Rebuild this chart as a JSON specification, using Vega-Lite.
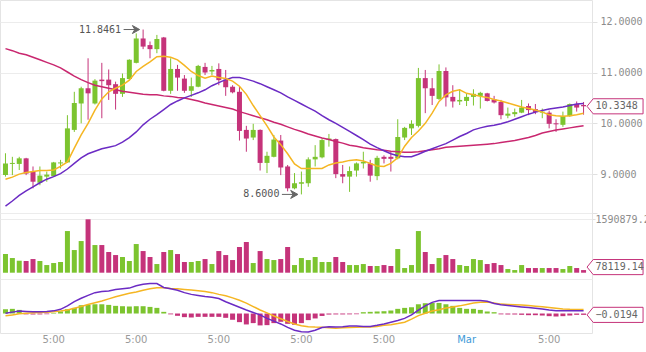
{
  "$schema": "https://vega.github.io/schema/vega-lite/v6.json",
  "width": 592,
  "height": 333,
  "autosize": {"type": "none"},
  "padding": {"left": 0, "top": 0, "right": 54, "bottom": 19},
  "background": "white",
  "config": {"view": {"stroke": "#e4e4e4"}, "font": "DejaVu Sans"},
  "datasets": {
    "c": [
      {"k":0,"o":8.98,"h":9.41,"l":8.95,"c":9.21,"v":556000,"m5":8.90,"m20":8.37,"m60":11.47,"dif":0.005,"dea":-0.033,"hist":0.062},
      {"k":1,"o":9.20,"h":9.34,"l":8.98,"c":9.22,"v":437000,"m5":8.94,"m20":8.47,"m60":11.43,"dif":0.02,"dea":-0.02,"hist":0.067},
      {"k":2,"o":9.20,"h":9.34,"l":9.08,"c":9.31,"v":357000,"m5":9.00,"m20":8.58,"m60":11.38,"dif":0.035,"dea":-0.005,"hist":0.052},
      {"k":3,"o":9.31,"h":9.32,"l":8.98,"c":9.01,"v":348000,"m5":9.03,"m20":8.67,"m60":11.35,"dif":0.03,"dea":0.005,"hist":-0.012},
      {"k":4,"o":9.05,"h":9.15,"l":8.72,"c":8.85,"v":407000,"m5":9.05,"m20":8.75,"m60":11.30,"dif":0.025,"dea":0.01,"hist":-0.014},
      {"k":5,"o":8.83,"h":9.15,"l":8.78,"c":8.97,"v":348000,"m5":9.07,"m20":8.83,"m60":11.25,"dif":0.024,"dea":0.014,"hist":-0.013},
      {"k":6,"o":8.95,"h":9.05,"l":8.85,"c":8.99,"v":228000,"m5":9.07,"m20":8.90,"m60":11.20,"dif":0.028,"dea":0.018,"hist":-0.01},
      {"k":7,"o":8.96,"h":9.24,"l":8.95,"c":9.23,"v":288000,"m5":9.08,"m20":8.95,"m60":11.15,"dif":0.038,"dea":0.024,"hist":0.008},
      {"k":8,"o":9.21,"h":9.28,"l":9.11,"c":9.23,"v":318000,"m5":9.15,"m20":9.01,"m60":11.09,"dif":0.06,"dea":0.035,"hist":0.03},
      {"k":9,"o":9.23,"h":10.16,"l":9.22,"c":9.90,"v":1241000,"m5":9.24,"m20":9.10,"m60":11.01,"dif":0.11,"dea":0.052,"hist":0.062},
      {"k":10,"o":9.87,"h":10.62,"l":9.83,"c":10.40,"v":675000,"m5":9.51,"m20":9.21,"m60":10.93,"dif":0.17,"dea":0.075,"hist":0.081},
      {"k":11,"o":10.39,"h":10.72,"l":10.00,"c":10.69,"v":943000,"m5":9.77,"m20":9.32,"m60":10.86,"dif":0.22,"dea":0.10,"hist":0.119},
      {"k":12,"o":10.69,"h":11.28,"l":10.07,"c":10.59,"v":1590879.2,"m5":10.00,"m20":9.40,"m60":10.80,"dif":0.26,"dea":0.13,"hist":0.124},
      {"k":13,"o":10.39,"h":10.87,"l":10.37,"c":10.84,"v":824000,"m5":10.26,"m20":9.45,"m60":10.75,"dif":0.30,"dea":0.155,"hist":0.133},
      {"k":14,"o":10.86,"h":11.19,"l":10.10,"c":10.83,"v":824000,"m5":10.48,"m20":9.50,"m60":10.72,"dif":0.315,"dea":0.18,"hist":0.133},
      {"k":15,"o":10.86,"h":11.06,"l":10.46,"c":10.75,"v":616000,"m5":10.62,"m20":9.53,"m60":10.69,"dif":0.325,"dea":0.21,"hist":0.124},
      {"k":16,"o":10.77,"h":10.82,"l":10.27,"c":10.58,"v":526000,"m5":10.69,"m20":9.56,"m60":10.66,"dif":0.345,"dea":0.24,"hist":0.11},
      {"k":17,"o":10.58,"h":10.98,"l":10.52,"c":10.89,"v":467000,"m5":10.75,"m20":9.63,"m60":10.63,"dif":0.355,"dea":0.265,"hist":0.105},
      {"k":18,"o":10.87,"h":11.26,"l":10.85,"c":11.25,"v":348000,"m5":10.85,"m20":9.72,"m60":10.61,"dif":0.365,"dea":0.29,"hist":0.10},
      {"k":19,"o":11.19,"h":11.77,"l":11.18,"c":11.67,"v":854000,"m5":11.02,"m20":9.83,"m60":10.59,"dif":0.40,"dea":0.31,"hist":0.105},
      {"k":20,"o":11.67,"h":11.8461,"l":11.46,"c":11.51,"v":645000,"m5":11.12,"m20":9.97,"m60":10.57,"dif":0.42,"dea":0.335,"hist":0.105},
      {"k":21,"o":11.54,"h":11.61,"l":11.28,"c":11.46,"v":467000,"m5":11.21,"m20":10.08,"m60":10.56,"dif":0.43,"dea":0.357,"hist":0.095},
      {"k":22,"o":11.46,"h":11.74,"l":11.38,"c":11.66,"v":258000,"m5":11.31,"m20":10.17,"m60":10.56,"dif":0.43,"dea":0.37,"hist":0.081},
      {"k":23,"o":11.69,"h":11.70,"l":10.63,"c":10.64,"v":616000,"m5":11.32,"m20":10.27,"m60":10.54,"dif":0.375,"dea":0.37,"hist":0.024},
      {"k":24,"o":10.64,"h":11.28,"l":10.58,"c":11.07,"v":675000,"m5":11.30,"m20":10.37,"m60":10.53,"dif":0.355,"dea":0.36,"hist":-0.012},
      {"k":25,"o":11.07,"h":11.15,"l":10.64,"c":10.90,"v":556000,"m5":11.25,"m20":10.44,"m60":10.51,"dif":0.335,"dea":0.355,"hist":-0.033},
      {"k":26,"o":10.88,"h":10.95,"l":10.60,"c":10.64,"v":318000,"m5":11.14,"m20":10.50,"m60":10.50,"dif":0.30,"dea":0.345,"hist":-0.052},
      {"k":27,"o":10.64,"h":10.90,"l":10.52,"c":10.73,"v":318000,"m5":11.02,"m20":10.55,"m60":10.47,"dif":0.275,"dea":0.337,"hist":-0.057},
      {"k":28,"o":10.72,"h":11.15,"l":10.71,"c":11.13,"v":348000,"m5":10.94,"m20":10.60,"m60":10.44,"dif":0.26,"dea":0.328,"hist":-0.048},
      {"k":29,"o":11.11,"h":11.19,"l":10.95,"c":11.00,"v":407000,"m5":10.89,"m20":10.66,"m60":10.40,"dif":0.245,"dea":0.315,"hist":-0.048},
      {"k":30,"o":11.02,"h":11.13,"l":10.95,"c":11.05,"v":258000,"m5":10.93,"m20":10.74,"m60":10.37,"dif":0.233,"dea":0.30,"hist":-0.048},
      {"k":31,"o":11.07,"h":11.18,"l":10.75,"c":10.85,"v":645000,"m5":10.90,"m20":10.80,"m60":10.34,"dif":0.215,"dea":0.275,"hist":-0.048},
      {"k":32,"o":10.86,"h":11.05,"l":10.54,"c":10.71,"v":526000,"m5":10.88,"m20":10.86,"m60":10.31,"dif":0.17,"dea":0.255,"hist":-0.062},
      {"k":33,"o":10.72,"h":10.75,"l":10.59,"c":10.61,"v":377000,"m5":10.83,"m20":10.90,"m60":10.28,"dif":0.13,"dea":0.225,"hist":-0.09},
      {"k":34,"o":10.62,"h":10.72,"l":9.66,"c":9.85,"v":765000,"m5":10.73,"m20":10.90,"m60":10.23,"dif":0.09,"dea":0.19,"hist":-0.124},
      {"k":35,"o":9.87,"h":9.95,"l":9.44,"c":9.70,"v":914000,"m5":10.57,"m20":10.87,"m60":10.19,"dif":0.05,"dea":0.15,"hist":-0.157},
      {"k":36,"o":9.72,"h":9.99,"l":9.67,"c":9.87,"v":288000,"m5":10.35,"m20":10.83,"m60":10.15,"dif":0.015,"dea":0.10,"hist":-0.138},
      {"k":37,"o":9.87,"h":9.88,"l":9.07,"c":9.22,"v":645000,"m5":10.15,"m20":10.78,"m60":10.11,"dif":-0.02,"dea":0.05,"hist":-0.171},
      {"k":38,"o":9.22,"h":9.44,"l":9.02,"c":9.36,"v":407000,"m5":9.95,"m20":10.72,"m60":10.07,"dif":-0.07,"dea":0.01,"hist":-0.167},
      {"k":39,"o":9.34,"h":9.77,"l":9.33,"c":9.68,"v":377000,"m5":9.73,"m20":10.66,"m60":10.02,"dif":-0.11,"dea":-0.035,"hist":-0.138},
      {"k":40,"o":9.66,"h":9.77,"l":8.98,"c":9.13,"v":407000,"m5":9.58,"m20":10.60,"m60":9.98,"dif":-0.15,"dea":-0.075,"hist":-0.119},
      {"k":41,"o":9.15,"h":9.18,"l":8.66,"c":8.72,"v":765000,"m5":9.40,"m20":10.52,"m60":9.93,"dif":-0.20,"dea":-0.115,"hist":-0.148},
      {"k":42,"o":8.72,"h":9.02,"l":8.70,"c":8.82,"v":228000,"m5":9.20,"m20":10.45,"m60":9.88,"dif":-0.24,"dea":-0.15,"hist":-0.162},
      {"k":43,"o":8.81,"h":9.05,"l":8.60,"c":8.84,"v":437000,"m5":9.11,"m20":10.38,"m60":9.84,"dif":-0.262,"dea":-0.175,"hist":-0.138},
      {"k":44,"o":8.82,"h":9.33,"l":8.75,"c":9.29,"v":377000,"m5":9.11,"m20":10.31,"m60":9.79,"dif":-0.267,"dea":-0.19,"hist":-0.095},
      {"k":45,"o":9.29,"h":9.57,"l":9.15,"c":9.34,"v":467000,"m5":9.11,"m20":10.24,"m60":9.75,"dif":-0.24,"dea":-0.195,"hist":-0.071},
      {"k":46,"o":9.33,"h":9.70,"l":9.31,"c":9.67,"v":318000,"m5":9.11,"m20":10.15,"m60":9.71,"dif":-0.20,"dea":-0.197,"hist":-0.035},
      {"k":47,"o":9.67,"h":9.79,"l":9.54,"c":9.70,"v":318000,"m5":9.18,"m20":10.07,"m60":9.68,"dif":-0.19,"dea":-0.205,"hist":-0.015},
      {"k":48,"o":9.69,"h":9.70,"l":8.92,"c":9.00,"v":467000,"m5":9.22,"m20":10.00,"m60":9.64,"dif":-0.195,"dea":-0.21,"hist":-0.013},
      {"k":49,"o":9.00,"h":9.18,"l":8.82,"c":8.95,"v":318000,"m5":9.24,"m20":9.92,"m60":9.61,"dif":-0.19,"dea":-0.205,"hist":-0.013},
      {"k":50,"o":8.95,"h":9.15,"l":8.65,"c":9.06,"v":228000,"m5":9.27,"m20":9.84,"m60":9.57,"dif":-0.18,"dea":-0.20,"hist":-0.012},
      {"k":51,"o":9.07,"h":9.23,"l":8.95,"c":9.21,"v":228000,"m5":9.28,"m20":9.76,"m60":9.55,"dif":-0.18,"dea":-0.197,"hist":-0.01},
      {"k":52,"o":9.21,"h":9.44,"l":9.11,"c":9.24,"v":258000,"m5":9.26,"m20":9.68,"m60":9.52,"dif":-0.185,"dea":-0.195,"hist":0.019},
      {"k":53,"o":9.21,"h":9.28,"l":8.85,"c":8.97,"v":199000,"m5":9.21,"m20":9.59,"m60":9.50,"dif":-0.186,"dea":-0.195,"hist":0.024},
      {"k":54,"o":8.96,"h":9.36,"l":8.88,"c":9.32,"v":199000,"m5":9.16,"m20":9.52,"m60":9.48,"dif":-0.17,"dea":-0.185,"hist":0.029},
      {"k":55,"o":9.34,"h":9.37,"l":9.21,"c":9.30,"v":228000,"m5":9.15,"m20":9.46,"m60":9.47,"dif":-0.15,"dea":-0.17,"hist":0.033},
      {"k":56,"o":9.34,"h":9.44,"l":9.05,"c":9.30,"v":199000,"m5":9.21,"m20":9.40,"m60":9.45,"dif":-0.125,"dea":-0.16,"hist":0.043},
      {"k":57,"o":9.31,"h":10.08,"l":9.29,"c":9.73,"v":705000,"m5":9.32,"m20":9.36,"m60":9.44,"dif":-0.10,"dea":-0.145,"hist":0.067},
      {"k":58,"o":9.72,"h":9.93,"l":9.67,"c":9.91,"v":139000,"m5":9.55,"m20":9.34,"m60":9.43,"dif":-0.07,"dea":-0.125,"hist":0.081},
      {"k":59,"o":9.90,"h":10.06,"l":9.77,"c":9.99,"v":228000,"m5":9.72,"m20":9.34,"m60":9.43,"dif":-0.02,"dea":-0.08,"hist":0.09},
      {"k":60,"o":9.95,"h":11.09,"l":9.92,"c":10.89,"v":1241000,"m5":9.85,"m20":9.39,"m60":9.44,"dif":0.05,"dea":-0.03,"hist":0.133},
      {"k":61,"o":10.89,"h":11.05,"l":10.20,"c":10.69,"v":616000,"m5":10.00,"m20":9.45,"m60":9.46,"dif":0.11,"dea":0.005,"hist":0.148},
      {"k":62,"o":10.69,"h":10.89,"l":10.36,"c":10.54,"v":258000,"m5":10.20,"m20":9.50,"m60":9.48,"dif":0.16,"dea":0.035,"hist":0.152},
      {"k":63,"o":10.48,"h":11.16,"l":10.46,"c":11.03,"v":437000,"m5":10.43,"m20":9.55,"m60":9.50,"dif":0.186,"dea":0.055,"hist":0.152},
      {"k":64,"o":11.03,"h":11.10,"l":10.33,"c":10.51,"v":526000,"m5":10.56,"m20":9.60,"m60":9.53,"dif":0.186,"dea":0.08,"hist":0.133},
      {"k":65,"o":10.52,"h":10.75,"l":10.31,"c":10.43,"v":407000,"m5":10.63,"m20":9.67,"m60":9.54,"dif":0.186,"dea":0.095,"hist":0.11},
      {"k":66,"o":10.43,"h":10.67,"l":10.36,"c":10.46,"v":228000,"m5":10.66,"m20":9.74,"m60":9.55,"dif":0.186,"dea":0.11,"hist":0.081},
      {"k":67,"o":10.44,"h":10.59,"l":10.34,"c":10.52,"v":199000,"m5":10.59,"m20":9.80,"m60":9.56,"dif":0.186,"dea":0.13,"hist":0.067},
      {"k":68,"o":10.52,"h":10.67,"l":10.35,"c":10.58,"v":407000,"m5":10.56,"m20":9.87,"m60":9.57,"dif":0.186,"dea":0.15,"hist":0.067},
      {"k":69,"o":10.54,"h":10.62,"l":10.29,"c":10.60,"v":377000,"m5":10.53,"m20":9.91,"m60":9.58,"dif":0.186,"dea":0.163,"hist":0.052},
      {"k":70,"o":10.59,"h":10.60,"l":10.43,"c":10.44,"v":258000,"m5":10.51,"m20":9.94,"m60":9.59,"dif":0.175,"dea":0.165,"hist":0.029},
      {"k":71,"o":10.47,"h":10.54,"l":10.39,"c":10.41,"v":288000,"m5":10.47,"m20":9.96,"m60":9.60,"dif":0.145,"dea":0.15,"hist":0.019},
      {"k":72,"o":10.42,"h":10.46,"l":10.08,"c":10.16,"v":228000,"m5":10.44,"m20":9.99,"m60":9.62,"dif":0.125,"dea":0.135,"hist":-0.012},
      {"k":73,"o":10.15,"h":10.31,"l":10.10,"c":10.19,"v":109000,"m5":10.40,"m20":10.03,"m60":9.64,"dif":0.115,"dea":0.13,"hist":-0.014},
      {"k":74,"o":10.18,"h":10.29,"l":10.13,"c":10.22,"v":79000,"m5":10.36,"m20":10.08,"m60":9.66,"dif":0.105,"dea":0.126,"hist":-0.014},
      {"k":75,"o":10.21,"h":10.46,"l":10.20,"c":10.31,"v":228000,"m5":10.32,"m20":10.13,"m60":9.69,"dif":0.095,"dea":0.122,"hist":-0.019},
      {"k":76,"o":10.34,"h":10.39,"l":10.16,"c":10.26,"v":139000,"m5":10.29,"m20":10.18,"m60":9.72,"dif":0.085,"dea":0.115,"hist":-0.024},
      {"k":77,"o":10.28,"h":10.38,"l":10.18,"c":10.22,"v":139000,"m5":10.26,"m20":10.22,"m60":9.76,"dif":0.075,"dea":0.105,"hist":-0.024},
      {"k":78,"o":10.21,"h":10.29,"l":10.10,"c":10.23,"v":139000,"m5":10.22,"m20":10.25,"m60":9.81,"dif":0.065,"dea":0.097,"hist":-0.029},
      {"k":79,"o":10.21,"h":10.25,"l":9.90,"c":9.99,"v":139000,"m5":10.17,"m20":10.28,"m60":9.84,"dif":0.05,"dea":0.085,"hist":-0.038},
      {"k":80,"o":10.00,"h":10.08,"l":9.83,"c":9.98,"v":139000,"m5":10.15,"m20":10.30,"m60":9.87,"dif":0.04,"dea":0.075,"hist":-0.043},
      {"k":81,"o":9.97,"h":10.23,"l":9.93,"c":10.14,"v":109000,"m5":10.14,"m20":10.32,"m60":9.89,"dif":0.038,"dea":0.065,"hist":-0.038},
      {"k":82,"o":10.14,"h":10.39,"l":10.13,"c":10.38,"v":199000,"m5":10.15,"m20":10.35,"m60":9.91,"dif":0.038,"dea":0.06,"hist":-0.029},
      {"k":83,"o":10.38,"h":10.43,"l":10.23,"c":10.31,"v":139000,"m5":10.17,"m20":10.38,"m60":9.93,"dif":0.038,"dea":0.058,"hist":-0.019},
      {"k":84,"o":10.36,"h":10.42,"l":10.17,"c":10.3348,"v":78119.14,"m5":10.20,"m20":10.39,"m60":9.95,"dif":0.038,"dea":0.057,"hist":-0.0194}
    ],
    "ann": [
      {"k": 20, "p": 11.8461},
      {"k": 43, "p": 8.6}
    ],
    "ticks": [
      {"k": 7, "t": "5:00"},
      {"k": 19, "t": "5:00"},
      {"k": 31, "t": "5:00"},
      {"k": 43, "t": "5:00"},
      {"k": 55, "t": "5:00"},
      {"k": 67, "t": "Mar"},
      {"k": 79, "t": "5:00"}
    ]
  },
  "resolve": {"scale": {"y": "independent"}, "axis": {"y": "independent"}},
  "layer": [
    {
      "data": {"name": "c"},
      "mark": {"type": "rule", "strokeWidth": 1},
      "encoding": {
        "x": {"field": "k", "type": "quantitative", "scale": {"domain": [-0.07, 84.5], "nice": false, "zero": false}, "axis": null},
        "y": {"field": "l", "type": "quantitative", "scale": {"domain": [8.24, 12.394], "range": [212.7, 1.7], "nice": false, "zero": false},
          "axis": {"orient": "right", "values": [8.24, 9, 10, 11, 12], "labelExpr": "datum.value > 8.5 ? format(datum.value, '.4f') : ''", "grid": true, "gridColor": "#ececec", "domain": false, "tickColor": "#e0e0e0", "tickSize": 5, "labelPadding": 3, "labelFont": "DejaVu Sans Mono", "labelFontSize": 10, "labelColor": "#8c8c8c", "labelFlush": false, "labelOverlap": false, "title": null}},
        "y2": {"field": "h"},
        "color": {"condition": {"test": "datum.c >= datum.o", "value": "#7cc42f"}, "value": "#c5337a"}
      }
    },
    {
      "data": {"name": "c"},
      "mark": {"type": "bar", "width": 5},
      "encoding": {
        "x": {"field": "k", "type": "quantitative", "scale": {"domain": [-0.07, 84.5], "nice": false, "zero": false}, "axis": null},
        "y": {"field": "o", "type": "quantitative", "scale": {"domain": [8.24, 12.394], "range": [212.7, 1.7], "nice": false, "zero": false}, "axis": null},
        "y2": {"field": "c"},
        "color": {"condition": {"test": "datum.c >= datum.o", "value": "#7cc42f"}, "value": "#c5337a"}
      }
    },
    {
      "data": {"name": "c"},
      "mark": {"type": "line", "color": "#c9276f", "strokeWidth": 1.5},
      "encoding": {
        "x": {"field": "k", "type": "quantitative", "scale": {"domain": [-0.07, 84.5], "nice": false, "zero": false}, "axis": null},
        "y": {"field": "m60", "type": "quantitative", "scale": {"domain": [8.24, 12.394], "range": [212.7, 1.7], "nice": false, "zero": false}, "axis": null}
      }
    },
    {
      "data": {"name": "c"},
      "mark": {"type": "line", "color": "#6b2bc4", "strokeWidth": 1.5},
      "encoding": {
        "x": {"field": "k", "type": "quantitative", "scale": {"domain": [-0.07, 84.5], "nice": false, "zero": false}, "axis": null},
        "y": {"field": "m20", "type": "quantitative", "scale": {"domain": [8.24, 12.394], "range": [212.7, 1.7], "nice": false, "zero": false}, "axis": null}
      }
    },
    {
      "data": {"name": "c"},
      "mark": {"type": "line", "color": "#f5b623", "strokeWidth": 1.5},
      "encoding": {
        "x": {"field": "k", "type": "quantitative", "scale": {"domain": [-0.07, 84.5], "nice": false, "zero": false}, "axis": null},
        "y": {"field": "m5", "type": "quantitative", "scale": {"domain": [8.24, 12.394], "range": [212.7, 1.7], "nice": false, "zero": false}, "axis": null}
      }
    },
    {
      "data": {"name": "ann"},
      "mark": {"type": "text", "align": "right", "baseline": "middle", "dx": -22, "font": "DejaVu Sans Mono", "fontSize": 10, "color": "#555555"},
      "encoding": {
        "x": {"field": "k", "type": "quantitative", "scale": {"domain": [-0.07, 84.5], "nice": false, "zero": false}, "axis": null},
        "y": {"field": "p", "type": "quantitative", "scale": {"domain": [8.24, 12.394], "range": [212.7, 1.7], "nice": false, "zero": false}, "axis": null},
        "text": {"field": "p", "type": "quantitative", "format": ".4f"}
      }
    },
    {
      "data": {"name": "ann"},
      "mark": {"type": "point", "shape": "M-1,0L0.5,0M0.1,-0.5L1,0L0.1,0.5L0.4,0Z", "size": 256, "filled": true, "fill": "#666666", "stroke": "#666666", "strokeWidth": 1, "opacity": 1, "xOffset": -11.5},
      "encoding": {
        "x": {"field": "k", "type": "quantitative", "scale": {"domain": [-0.07, 84.5], "nice": false, "zero": false}, "axis": null},
        "y": {"field": "p", "type": "quantitative", "scale": {"domain": [8.24, 12.394], "range": [212.7, 1.7], "nice": false, "zero": false}, "axis": null}
      }
    },
    {
      "data": {"name": "c"},
      "transform": [{"filter": "datum.k == 84"}],
      "mark": {"type": "point", "shape": "M-1,0L-0.78,-0.27L1,-0.27L1,0.27L-0.78,0.27Z", "size": 3136, "filled": true, "fill": "white", "stroke": "#c5337a", "strokeWidth": 1, "opacity": 1, "xOffset": 31.5},
      "encoding": {
        "x": {"field": "k", "type": "quantitative", "scale": {"domain": [-0.07, 84.5], "nice": false, "zero": false}, "axis": null},
        "y": {"field": "c", "type": "quantitative", "scale": {"domain": [8.24, 12.394], "range": [212.7, 1.7], "nice": false, "zero": false}, "axis": null}
      }
    },
    {
      "data": {"name": "c"},
      "transform": [{"filter": "datum.k == 84"}],
      "mark": {"type": "text", "align": "left", "baseline": "middle", "dx": 12, "font": "DejaVu Sans Mono", "fontSize": 10, "color": "#666666"},
      "encoding": {
        "x": {"field": "k", "type": "quantitative", "scale": {"domain": [-0.07, 84.5], "nice": false, "zero": false}, "axis": null},
        "y": {"field": "c", "type": "quantitative", "scale": {"domain": [8.24, 12.394], "range": [212.7, 1.7], "nice": false, "zero": false}, "axis": null},
        "text": {"field": "c", "type": "quantitative", "format": ".4f"}
      }
    },
    {
      "data": {"name": "c"},
      "mark": {"type": "bar", "width": 5},
      "encoding": {
        "x": {"field": "k", "type": "quantitative", "scale": {"domain": [-0.07, 84.5], "nice": false, "zero": false}, "axis": null},
        "y": {"field": "v", "type": "quantitative", "scale": {"domain": [0, 1590879.2], "range": [272.7, 219.3], "nice": false},
          "axis": {"orient": "right", "values": [1590879.2], "labelExpr": "'1590879.2'", "grid": true, "gridColor": "#ececec", "domain": false, "tickColor": "#e0e0e0", "tickSize": 3, "labelPadding": 0, "labelFont": "DejaVu Sans Mono", "labelFontSize": 10, "labelColor": "#8c8c8c", "labelFlush": false, "labelOverlap": false, "title": null}},
        "color": {"condition": {"test": "datum.c >= datum.o", "value": "#7cc42f"}, "value": "#c5337a"}
      }
    },
    {
      "data": {"name": "c"},
      "transform": [{"filter": "datum.k == 84"}],
      "mark": {"type": "point", "shape": "M-1,0L-0.78,-0.27L1,-0.27L1,0.27L-0.78,0.27Z", "size": 3136, "filled": true, "fill": "white", "stroke": "#c5337a", "strokeWidth": 1, "opacity": 1, "xOffset": 31.5, "yOffset": -3},
      "encoding": {
        "x": {"field": "k", "type": "quantitative", "scale": {"domain": [-0.07, 84.5], "nice": false, "zero": false}, "axis": null},
        "y": {"field": "v", "type": "quantitative", "scale": {"domain": [0, 1590879.2], "range": [272.7, 219.3], "nice": false}, "axis": null}
      }
    },
    {
      "data": {"name": "c"},
      "transform": [{"filter": "datum.k == 84"}],
      "mark": {"type": "text", "align": "left", "baseline": "middle", "dx": 12, "dy": -3, "font": "DejaVu Sans Mono", "fontSize": 10, "color": "#666666"},
      "encoding": {
        "x": {"field": "k", "type": "quantitative", "scale": {"domain": [-0.07, 84.5], "nice": false, "zero": false}, "axis": null},
        "y": {"field": "v", "type": "quantitative", "scale": {"domain": [0, 1590879.2], "range": [272.7, 219.3], "nice": false}, "axis": null},
        "text": {"field": "v", "type": "quantitative", "format": ".2f"}
      }
    },
    {
      "data": {"name": "c"},
      "mark": {"type": "bar", "width": 5},
      "encoding": {
        "x": {"field": "k", "type": "quantitative", "scale": {"domain": [-0.07, 84.5], "nice": false, "zero": false}, "axis": null},
        "y": {"field": "hist", "type": "quantitative", "scale": {"domain": [-0.28, 0.496], "range": [333, 279], "nice": false},
          "axis": {"orient": "right", "values": [0.496], "labels": false, "ticks": false, "grid": true, "gridColor": "#ececec", "domain": false, "title": null}},
        "color": {"condition": {"test": "datum.hist >= 0", "value": "#7cc42f"}, "value": "#c5337a"}
      }
    },
    {
      "data": {"name": "c"},
      "mark": {"type": "line", "color": "#f5b623", "strokeWidth": 1.5},
      "encoding": {
        "x": {"field": "k", "type": "quantitative", "scale": {"domain": [-0.07, 84.5], "nice": false, "zero": false}, "axis": null},
        "y": {"field": "dea", "type": "quantitative", "scale": {"domain": [-0.28, 0.496], "range": [333, 279], "nice": false}, "axis": null}
      }
    },
    {
      "data": {"name": "c"},
      "mark": {"type": "line", "color": "#6b2bc4", "strokeWidth": 1.5},
      "encoding": {
        "x": {"field": "k", "type": "quantitative", "scale": {"domain": [-0.07, 84.5], "nice": false, "zero": false}, "axis": null},
        "y": {"field": "dif", "type": "quantitative", "scale": {"domain": [-0.28, 0.496], "range": [333, 279], "nice": false}, "axis": null}
      }
    },
    {
      "data": {"name": "c"},
      "transform": [{"filter": "datum.k == 84"}],
      "mark": {"type": "point", "shape": "M-1,0L-0.78,-0.27L1,-0.27L1,0.27L-0.78,0.27Z", "size": 3136, "filled": true, "fill": "white", "stroke": "#c5337a", "strokeWidth": 1, "opacity": 1, "xOffset": 31.5},
      "encoding": {
        "x": {"field": "k", "type": "quantitative", "scale": {"domain": [-0.07, 84.5], "nice": false, "zero": false}, "axis": null},
        "y": {"field": "hist", "type": "quantitative", "scale": {"domain": [-0.28, 0.496], "range": [333, 279], "nice": false}, "axis": null}
      }
    },
    {
      "data": {"name": "c"},
      "transform": [{"filter": "datum.k == 84"}],
      "mark": {"type": "text", "align": "left", "baseline": "middle", "dx": 12, "font": "DejaVu Sans Mono", "fontSize": 10, "color": "#666666"},
      "encoding": {
        "x": {"field": "k", "type": "quantitative", "scale": {"domain": [-0.07, 84.5], "nice": false, "zero": false}, "axis": null},
        "y": {"field": "hist", "type": "quantitative", "scale": {"domain": [-0.28, 0.496], "range": [333, 279], "nice": false}, "axis": null},
        "text": {"field": "hist", "type": "quantitative", "format": ".4f"}
      }
    },
    {
      "data": {"name": "ticks"},
      "mark": {"type": "text", "align": "center", "baseline": "middle", "dy": 7, "font": "DejaVu Sans", "fontSize": 10},
      "encoding": {
        "x": {"field": "k", "type": "quantitative", "scale": {"domain": [-0.07, 84.5], "nice": false, "zero": false}, "axis": null},
        "y": {"datum": -0.28, "type": "quantitative", "scale": {"domain": [-0.28, 0.496], "range": [333, 279], "nice": false}, "axis": null},
        "text": {"field": "t"},
        "color": {"condition": {"test": "datum.t == 'Mar'", "value": "#3d9ad8"}, "value": "#9a9a9a"}
      }
    }
  ]
}
